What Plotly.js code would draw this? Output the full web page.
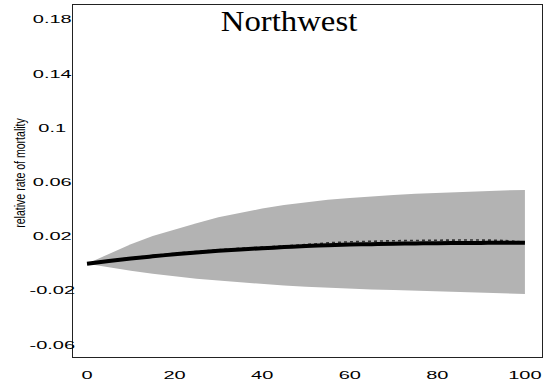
<!DOCTYPE html>
<html>
<head>
<meta charset="utf-8">
<script src="https://cdn.plot.ly/plotly-3.0.1.min.js"></script>
<style>
html, body { margin: 0; padding: 0; background: #fff; }
#chart { width: 544px; height: 390px; }
</style>
</head>
<body>
<div id="chart"></div>
<script>
// ---- data ----
const horizon   = [0, 5, 10, 15, 20, 25, 30, 35, 40, 45, 50, 55, 60, 65, 70, 75, 80, 85, 90, 95, 100];
const meanRate  = [0, 0.0020, 0.0039, 0.0055, 0.0070, 0.0084, 0.0096, 0.0106, 0.0115, 0.0123, 0.0131, 0.0137, 0.0142, 0.0145, 0.0148, 0.0150, 0.0152, 0.0153, 0.0154, 0.0155, 0.0155];
const medianRate= [0, 0.0024, 0.0044, 0.0061, 0.0077, 0.0091, 0.0103, 0.0114, 0.0123, 0.0132, 0.0142, 0.0154, 0.0162, 0.0166, 0.0170, 0.0172, 0.0174, 0.0175, 0.0175, 0.0172, 0.0160];
const upperBand = [0, 0.0075, 0.0145, 0.0205, 0.0255, 0.0300, 0.0343, 0.0377, 0.0408, 0.0433, 0.0455, 0.0472, 0.0486, 0.0498, 0.0508, 0.0516, 0.0523, 0.0530, 0.0536, 0.0541, 0.0545];
const lowerBand = [0, -0.0028, -0.0052, -0.0073, -0.0093, -0.0110, -0.0124, -0.0138, -0.0150, -0.0161, -0.0170, -0.0178, -0.0184, -0.0189, -0.0194, -0.0198, -0.0202, -0.0207, -0.0212, -0.0217, -0.0223];
const yTickVals  = [0.18, 0.14, 0.1, 0.06, 0.02, -0.02, -0.06];
const yTickText  = ['0.18', '0.14', '0.1', '0.06', '0.02', '-0.02', '-0.06'];
const xTickVals  = [0, 20, 40, 60, 80, 100];
const xTickText  = ['0', '20', '40', '60', '80', '100'];
const titleText  = 'Northwest';
const yTitleText = 'relative rate of mortality';

const traces = [
  { x: horizon, y: lowerBand, type: 'scatter', mode: 'lines',
    line: { width: 0, color: '#b3b3b3' }, hoverinfo: 'skip', showlegend: false },
  { x: horizon, y: upperBand, type: 'scatter', mode: 'lines', fill: 'tonexty',
    fillcolor: '#b3b3b3', line: { width: 0, color: '#b3b3b3' }, hoverinfo: 'skip', showlegend: false },
  { x: horizon, y: medianRate, type: 'scatter', mode: 'lines',
    line: { width: 1.6, color: '#333', dash: 'dot', shape: 'spline' }, showlegend: false },
  { x: horizon, y: meanRate, type: 'scatter', mode: 'lines',
    line: { width: 4, color: '#000', shape: 'spline' }, showlegend: false }
];

const tickFont = { family: 'Liberation Sans, Arial, sans-serif', size: 10, color: '#000' };

const layout = {
  width: 544, height: 390,
  margin: { l: 73, r: 2, t: 5, b: 33, pad: 0 },
  paper_bgcolor: '#fff', plot_bgcolor: '#fff',
  showlegend: false,
  title: { text: titleText, font: { family: 'Liberation Serif, Times New Roman, serif', size: 29, color: '#000' },
           x: 289 / 544, xref: 'container', xanchor: 'center', y: 1 - 21 / 390, yref: 'container', yanchor: 'middle' },
  xaxis: {
    range: [-3.2, 103.9], tickvals: xTickVals, ticktext: xTickText,
    showgrid: false, zeroline: false, showline: true, mirror: true, linecolor: '#222', linewidth: 1,
    ticks: '', tickfont: tickFont, ticklabelstandoff: 9
  },
  yaxis: {
    range: [-0.0688, 0.191], tickvals: yTickVals, ticktext: yTickText,
    showgrid: false, zeroline: false, showline: true, mirror: true, linecolor: '#222', linewidth: 1,
    ticks: '', tickfont: tickFont, ticklabelstandoff: -5,
    title: { text: yTitleText, font: { family: 'Liberation Sans, Arial, sans-serif', size: 15, color: '#000' }, standoff: 22 }
  }
};

function stretch(el, sx, about) {
  const tr = el.getAttribute('transform') || '';
  el.setAttribute('transform', tr + ' translate(' + about[0] + ',' + about[1] + ') scale(' + sx + ',1) translate(' + (-about[0]) + ',' + (-about[1]) + ')');
}

Plotly.newPlot('chart', traces, layout, { displayModeBar: false, staticPlot: true }).then(() => {
  const svgLeft = document.querySelector('#chart .main-svg').getBoundingClientRect().left;
  document.querySelectorAll('.xtick text').forEach(t => {
    const x = parseFloat(t.getAttribute('x')) || 0;
    stretch(t, 2.0, [x, 0]);
  });
  document.querySelectorAll('.ytick text').forEach(t => {
    t.setAttribute('text-anchor', 'middle');
    const r = t.getBoundingClientRect();
    const cx = r.left + r.width / 2 - svgLeft;
    const x = (parseFloat(t.getAttribute('x')) || 0) + (52.5 - cx);
    t.setAttribute('x', x);
    stretch(t, 2.0, [x, 0]);
  });
  const yt = document.querySelector('.ytitle');
  if (yt) {
    const w = yt.getBBox().width;
    const x = parseFloat(yt.getAttribute('x')) || 0;
    const y = parseFloat(yt.getAttribute('y')) || 0;
    yt.setAttribute('transform', (yt.getAttribute('transform') || '') + ' translate(8,0)');
    if (w > 0) stretch(yt, Math.min(1, 110 / w), [x, y]);
  }
  const gt = document.querySelector('.gtitle');
  if (gt) {
    const x = parseFloat(gt.getAttribute('x')) || 0;
    const y = parseFloat(gt.getAttribute('y')) || 0;
    stretch(gt, 1.13, [x, y]);
  }
});
</script>
</body>
</html>
